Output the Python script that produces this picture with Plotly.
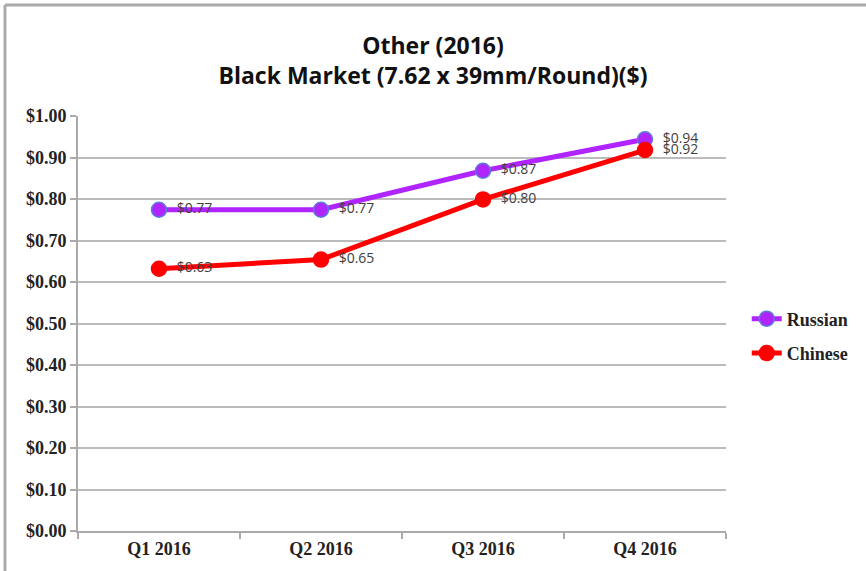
import plotly.graph_objects as go

quarters = ["Q1 2016", "Q2 2016", "Q3 2016", "Q4 2016"]
russian = [0.774, 0.774, 0.868, 0.944]
chinese = [0.632, 0.654, 0.799, 0.918]
y_ticks = [0.0, 0.1, 0.2, 0.3, 0.4, 0.5, 0.6, 0.7, 0.8, 0.9, 1.0]
y_tick_labels = ["$%.2f" % v for v in y_ticks]

fig = go.Figure()
series = [("Russian", russian, "#B024FF", "#5B7BD5"), ("Chinese", chinese, "#FF0000", "#FF0000")]
for name, vals, col, edge in series:
    fig.add_trace(go.Scatter(
        x=quarters, y=vals, name=name, legendgroup=name, mode="lines+markers+text",
        line=dict(color=col, width=5),
        marker=dict(color=col, size=15, line=dict(color=edge, width=1.5)),
        texttemplate="  $%{y:.2f}", textposition="middle right",
        textfont=dict(family="Open Sans", size=14, color="#404040"),
        cliponaxis=False,
    ))

tick_font = dict(family="Liberation Serif", size=18, color="#222222", weight="bold")
fig.update_layout(
    width=866, height=571,
    margin=dict(l=78, r=140, t=116, b=40, autoexpand=False),
    paper_bgcolor="white", plot_bgcolor="white",
    title=dict(text="<b>Other (2016)<br>Black Market (7.62 x 39mm/Round)($)</b>",
               x=0.5, xanchor="center", y=0.906, yanchor="middle",
               font=dict(family="Open Sans", size=23, color="#111111")),
    showlegend=True,
    legend=dict(x=1.032, xanchor="left", y=0.47, yanchor="middle",
                font=dict(family="Liberation Serif", size=18, color="#222222", weight="bold"),
                tracegroupgap=8, itemwidth=30),
    xaxis=dict(type="category", range=[-0.5, 3.5], showgrid=False,
               showline=True, linecolor="#AAAAAA", linewidth=2,
               ticks="outside", tickson="boundaries", ticklen=6, tickcolor="#AAAAAA", tickwidth=2,
               tickfont=tick_font),
    yaxis=dict(range=[0, 1.0], tickvals=y_ticks, ticktext=y_tick_labels,
               showgrid=True, gridcolor="#BBBBBB", gridwidth=2,
               showline=True, linecolor="#AAAAAA", linewidth=2,
               ticks="outside", ticklen=6, tickcolor="#AAAAAA", tickwidth=2,
               zeroline=False, tickfont=tick_font),
    shapes=[
        dict(type="line", xref="paper", yref="paper", x0=-0.1127, x1=1.3, y0=1.2675, y1=1.2675,
             line=dict(color="#AAAAAA", width=3)),
        dict(type="line", xref="paper", yref="paper", x0=-0.1127, x1=-0.1127, y0=-0.2, y1=1.2675,
             line=dict(color="#AAAAAA", width=3)),
    ],
)

fig.write_html("out.html", config={"displayModeBar": False},
               post_script="document.body.style.margin='0px';")
